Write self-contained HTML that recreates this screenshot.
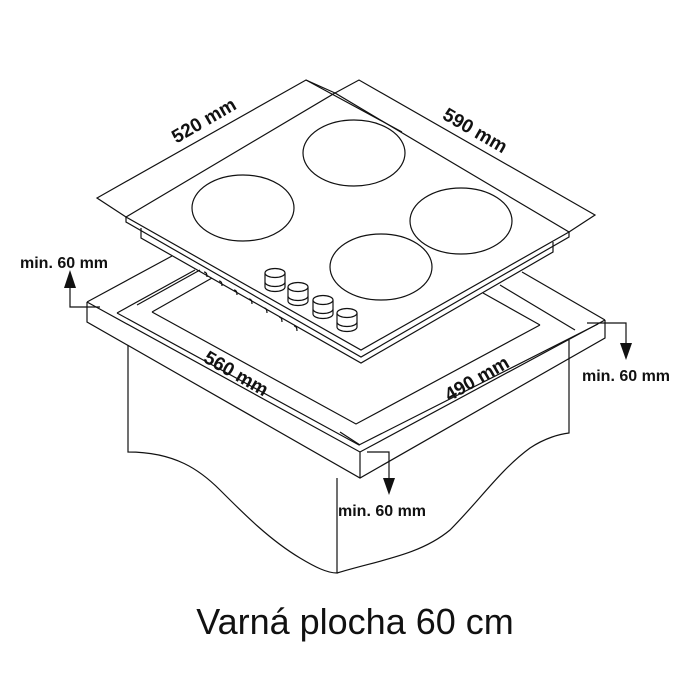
<!DOCTYPE html>
<html><head><meta charset="utf-8"><style>
html,body{margin:0;padding:0;background:#fff;}
svg{display:block;}
text{font-family:"Liberation Sans",sans-serif;font-weight:bold;fill:#111;}
</style></head><body>
<svg width="700" height="700" viewBox="0 0 700 700" xmlns="http://www.w3.org/2000/svg">
<g fill="none" stroke="#111" stroke-width="1.2">
<!-- cabinet body -->
<path d="M128,345 V452 C175,452 200,470 220,490 C245,515 270,540 300,558 C315,567 327,573 337,573 V478"/>
<path d="M337,573 C380,560 420,555 450,530 C480,500 500,470 530,448 C545,438 560,434 569,433 V340"/>
<!-- countertop -->
<path d="M87,302 L360,452 L605,320"/>
<path d="M87,302 V322 L360,478 L605,338 V320"/>
<path d="M360,452 V478"/>
<path d="M87,302 L172,256"/>
<path d="M605,320 L522,272"/>
<!-- strip lines -->
<path d="M117,313 L359,445 L598,324"/>
<path d="M152,312 L356,424 L540,325"/>
<path d="M117,313 L195,270"/>
<path d="M152,312 L212,278"/>
<path d="M137,305 L200,270"/>
<path d="M483,293 L540,325"/>
<path d="M500,285 L575,330"/>
<path d="M340,432 L360,445"/>
<!-- hob -->
<path d="M126,217 L335,93 L569,232 L361,350 Z" fill="#fff"/>
<path d="M126,217 V222 L361,357 L569,237 V232"/>
<path d="M141,228 V238 L361,363 L553,252 V242"/>
<!-- notches -->
<path d="M204,272 q3,0 3,5 M219,281 q3,0 3,5 M234,290 q3,0 3,5 M249,299 q3,0 3,5 M264,308 q3,0 3,5 M279,317 q3,0 3,5 M294,326 q3,0 3,5"/>
<!-- dimension frame -->
<path d="M126,217 L97,198 L306,80 L335,93"/>
<path d="M306,80 L402,132"/>
<path d="M335,93 L359,80 L595,215 L569,232"/>
<!-- burners -->
<ellipse cx="354" cy="153" rx="51" ry="33"/>
<ellipse cx="243" cy="208" rx="51" ry="33"/>
<ellipse cx="461" cy="221" rx="51" ry="33"/>
<ellipse cx="381" cy="267" rx="51" ry="33"/>
</g>
<!-- knobs -->
<g fill="#fff" stroke="#111" stroke-width="1.2">
<g transform="translate(275,273)"><path d="M-10,0 V14 A10,4.5 0 0 0 10,14 V0"/><path d="M-10,9 A10,4.5 0 0 0 10,9"/><ellipse cx="0" cy="0" rx="10" ry="4.5"/></g>
<g transform="translate(298,287)"><path d="M-10,0 V14 A10,4.5 0 0 0 10,14 V0"/><path d="M-10,9 A10,4.5 0 0 0 10,9"/><ellipse cx="0" cy="0" rx="10" ry="4.5"/></g>
<g transform="translate(323,300)"><path d="M-10,0 V14 A10,4.5 0 0 0 10,14 V0"/><path d="M-10,9 A10,4.5 0 0 0 10,9"/><ellipse cx="0" cy="0" rx="10" ry="4.5"/></g>
<g transform="translate(347,313)"><path d="M-10,0 V14 A10,4.5 0 0 0 10,14 V0"/><path d="M-10,9 A10,4.5 0 0 0 10,9"/><ellipse cx="0" cy="0" rx="10" ry="4.5"/></g>
</g>
<!-- arrows -->
<g fill="none" stroke="#111" stroke-width="1.2">
<path d="M100,307 H70 V285"/>
<path d="M587,323 H626 V345"/>
<path d="M367,452 H389 V480"/>
</g>
<g fill="#111">
<path d="M64,288 L70,270 L76,288 Z"/>
<path d="M620,343 L626,360 L632,343 Z"/>
<path d="M383,478 L389,495 L395,478 Z"/>
</g>
<!-- labels -->
<text x="20" y="268" font-size="16">min. 60 mm</text>
<text x="582" y="381" font-size="16">min. 60 mm</text>
<text x="338" y="516" font-size="16">min. 60 mm</text>
<text transform="translate(207,126) rotate(-30)" text-anchor="middle" font-size="19">520 mm</text>
<text transform="translate(472,136) rotate(30)" text-anchor="middle" font-size="19">590 mm</text>
<text transform="translate(233,379) rotate(30)" text-anchor="middle" font-size="19">560 mm</text>
<text transform="translate(480,384) rotate(-30)" text-anchor="middle" font-size="19">490 mm</text>
<text x="355" y="634" text-anchor="middle" font-size="36" style="font-weight:normal">Varná plocha 60 cm</text>
</svg>
</body></html>
